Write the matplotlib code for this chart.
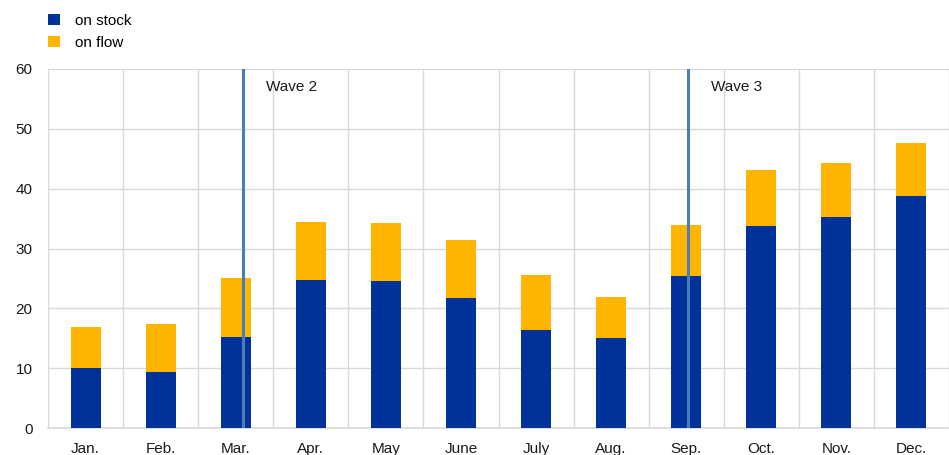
import matplotlib
matplotlib.use("Agg")
import matplotlib.pyplot as plt
import numpy as np

plt.rcParams['font.family'] = ['Liberation Sans', 'DejaVu Sans']

months = ["Jan.", "Feb.", "Mar.", "Apr.", "May", "June", "July", "Aug.", "Sep.", "Oct.", "Nov.", "Dec."]
on_stock = [10.0, 9.4, 15.2, 24.8, 24.5, 21.7, 16.4, 15.0, 25.4, 33.8, 35.2, 38.8]
on_total = [16.8, 17.4, 25.1, 34.4, 34.3, 31.4, 25.6, 21.9, 33.9, 43.1, 44.3, 47.7]
on_flow = [t - s for t, s in zip(on_total, on_stock)]
wave_labels = ["Wave 2", "Wave 3"]
wave_pos = [2.1, 8.03]

c_stock = "#003299"
c_flow = "#FFB400"
c_wave = "#4A7EBB"
c_grid = "#D9D9D9"

fig = plt.figure(figsize=(9.49, 4.55), dpi=100)
ax = fig.add_axes([48/949, 27/455, 901/949, 359/455])

x = np.arange(len(months))
ax.bar(x, on_stock, width=0.4, color=c_stock, label="on stock", zorder=3)
ax.bar(x, on_flow, width=0.4, bottom=on_stock, color=c_flow, label="on flow", zorder=3)

for p, lab in zip(wave_pos, wave_labels):
    ax.axvline(p, color=c_wave, lw=2.2, zorder=4)
    ax.text(p + 0.3, 57, lab, fontsize=11, va='center', ha='left', color='#1a1a1a')

ax.set_xlim(-0.5, len(months) - 0.5)
ax.set_ylim(0, 60)
ax.set_yticks(range(0, 61, 10))
ax.set_xticks(x)
ax.set_xticklabels(months)
ax.set_xticks(np.arange(-0.5, len(months), 1), minor=True)
ax.grid(axis='y', which='major', color=c_grid, lw=1, zorder=0)
ax.grid(axis='x', which='minor', color=c_grid, lw=1, zorder=0)
ax.tick_params(axis='both', which='both', length=0, labelsize=11, colors='#1a1a1a')
ax.tick_params(axis='x', pad=10)
ax.tick_params(axis='y', pad=11)
for s in ['top', 'right', 'left']:
    ax.spines[s].set_visible(False)
ax.spines['bottom'].set_color(c_grid)
ax.spines['bottom'].set_linewidth(1.2)

leg = fig.legend(loc='upper left', bbox_to_anchor=(34/949, 1 - 0/455), frameon=False,
                 fontsize=11, handlelength=0.8, handleheight=0.8, handletextpad=1.0,
                 labelspacing=0.5)

fig.savefig("out.png", dpi=100)
